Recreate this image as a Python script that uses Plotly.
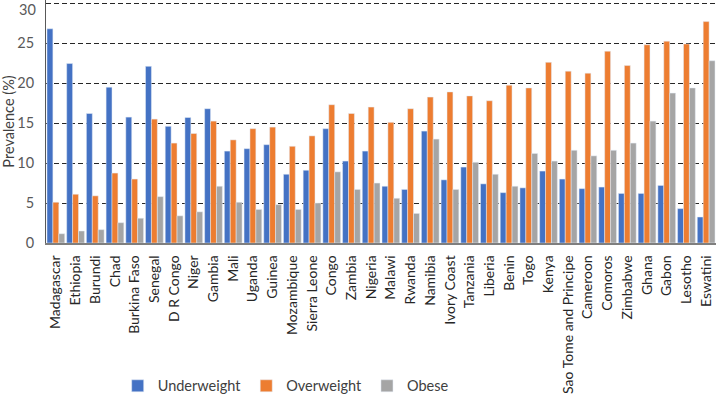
import plotly.graph_objects as go

countries = ["Madagascar", "Ethiopia", "Burundi", "Chad", "Burkina Faso", "Senegal", "D R Congo",
             "Niger", "Gambia", "Mali", "Uganda", "Guinea", "Mozambique", "Sierra Leone", "Congo",
             "Zambia", "Nigeria", "Malawi", "Rwanda", "Namibia", "Ivory Coast", "Tanzania", "Liberia",
             "Benin", "Togo", "Kenya", "Sao Tome and Principe", "Cameroon", "Comoros", "Zimbabwe",
             "Ghana", "Gabon", "Lesotho", "Eswatini"]

underweight = [26.8, 22.45, 16.2, 19.5, 15.75, 22.1, 14.6, 15.7, 16.8, 11.5, 11.8, 12.3, 8.6, 9.1,
               14.3, 10.25, 11.5, 7.1, 6.7, 14.0, 7.9, 9.5, 7.4, 6.3, 6.9, 9.0, 8.0, 6.8, 7.0, 6.2,
               6.2, 7.2, 4.3, 3.25]
overweight = [5.1, 6.1, 5.9, 8.75, 8.0, 15.5, 12.5, 13.7, 15.25, 12.9, 14.3, 14.5, 12.1, 13.4,
              17.3, 16.2, 17.0, 15.1, 16.8, 18.25, 18.9, 18.4, 17.8, 19.75, 19.4, 22.6, 21.5, 21.25,
              24.0, 22.2, 24.8, 25.25, 24.9, 27.7]
obese = [1.16, 1.5, 1.67, 2.54, 3.1, 5.8, 3.4, 3.9, 7.1, 5.1, 4.2, 4.8, 4.2, 5.0, 8.9, 6.7, 7.5,
         5.6, 3.7, 13.0, 6.7, 10.1, 8.6, 7.1, 11.2, 10.25, 11.6, 10.9, 11.6, 12.5, 15.25, 18.75,
         19.4, 22.8]

y_ticks = [0, 5, 10, 15, 20, 25, 30]

FONT = "Lato"
TICKFONT = dict(family=FONT, size=14.5, color="#595959")

fig = go.Figure()
fig.add_trace(go.Bar(name="Underweight", x=countries, y=underweight, marker_color="#4472C4"))
fig.add_trace(go.Bar(name="Overweight", x=countries, y=overweight, marker_color="#ED7D31"))
fig.add_trace(go.Bar(name="Obese", x=countries, y=obese, marker_color="#A5A5A5"))

fig.update_layout(
    width=718, height=402,
    margin=dict(l=46, r=2, t=0, b=159, autoexpand=False),
    paper_bgcolor="white", plot_bgcolor="white",
    barmode="group", bargap=0.1, bargroupgap=0,
    font=dict(family=FONT, size=14, color="#404040"),
    showlegend=True,
    legend=dict(orientation="h", x=0.107, xanchor="left", y=-0.588, yanchor="middle",
                font=dict(family=FONT, size=14.5, color="#404040"),
                bgcolor="rgba(0,0,0,0)"),
)
fig.update_xaxes(
    tickangle=-90, tickfont=dict(family=FONT, size=14, color="#262626"),
    showline=True, linecolor="#7f7f7f", linewidth=1.5,
    showgrid=False, ticks="", ticklabelstandoff=5, automargin=False,
)
# the top tick label sits at the figure edge, where plotly would drop it; draw it as an annotation
fig.update_yaxes(
    range=[0, 30.4], tickvals=y_ticks,
    ticktext=[str(v) for v in y_ticks[:-1]] + [""],
    tickfont=TICKFONT,
    showline=True, linecolor="#595959", linewidth=1,
    showgrid=True, gridcolor="#262626", gridwidth=1.2, griddash="5px,3px",
    zeroline=False, ticks="", ticklabelstandoff=8, automargin=False,
    title=dict(text="Prevalence (%)", font=dict(family=FONT, size=14.5, color="#404040"), standoff=4),
)
fig.add_annotation(
    x=0, xref="paper", y=y_ticks[-1], yref="y", text=str(y_ticks[-1]),
    xanchor="right", yanchor="top", xshift=-8, yshift=4, showarrow=False,
    font=TICKFONT,
)

fig.write_html("out.html", config={"displayModeBar": False},
               post_script="document.body.style.margin='0';document.body.style.padding='0';")
